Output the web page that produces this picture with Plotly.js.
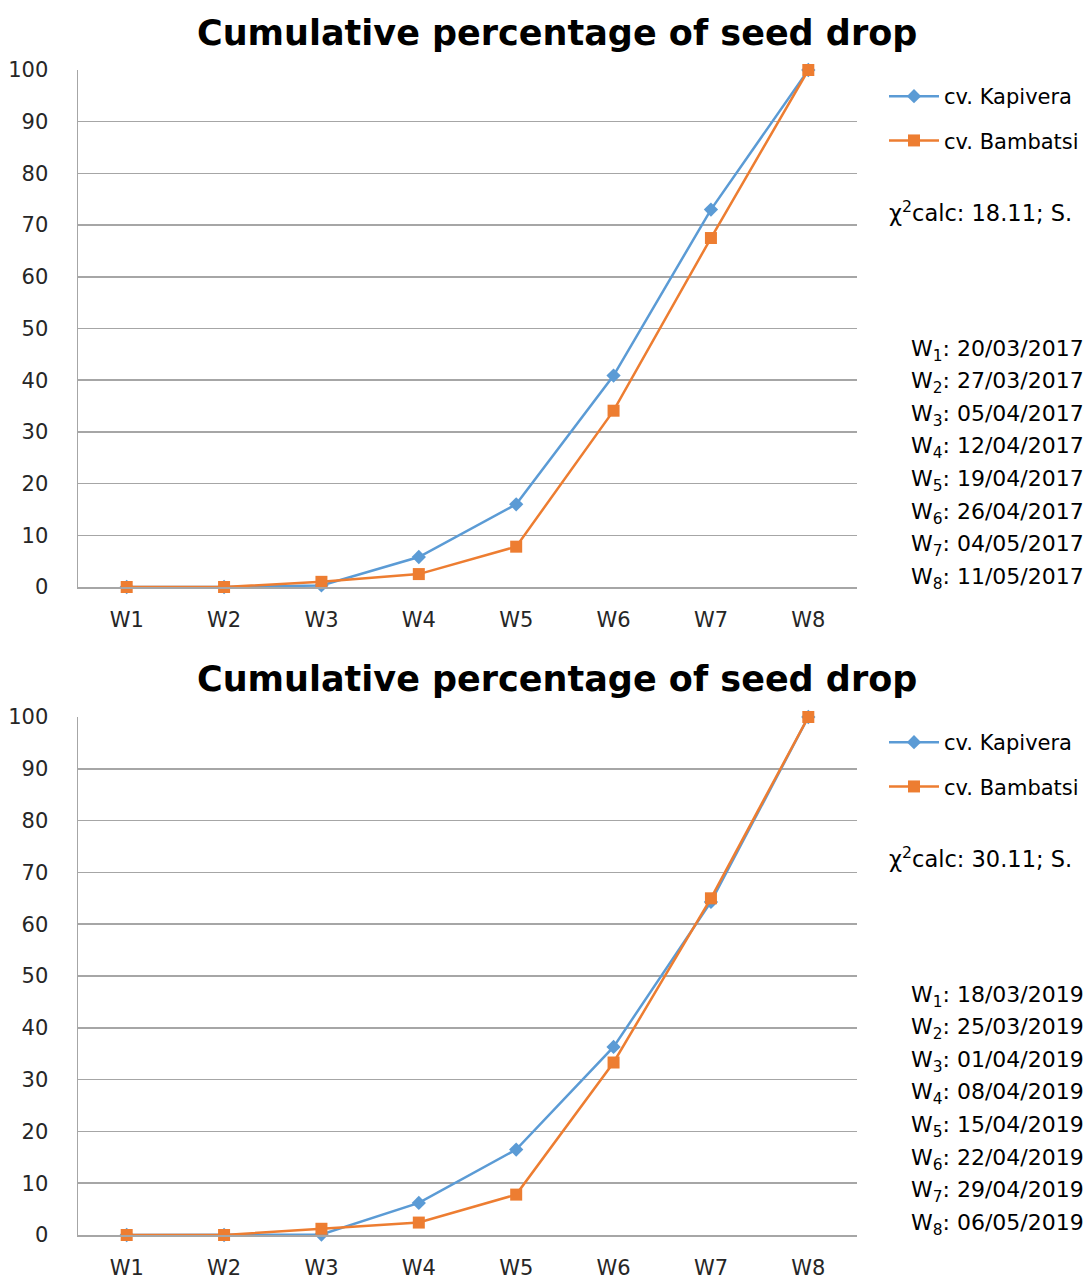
<!DOCTYPE html>
<html>
<head>
<meta charset="utf-8">
<script src="https://cdn.plot.ly/plotly-3.0.1.min.js"></script>
<style>html,body{margin:0;padding:0;background:#fff;}#chart{width:1087px;height:1279px;}</style>
</head>
<body>
<div id="chart"></div>
<script>
const weeks = ["W1","W2","W3","W4","W5","W6","W7","W8"];
const kapivera2017 = [0, 0, 0.3, 5.8, 16.0, 40.9, 73.0, 100];
const bambatsi2017 = [0, 0, 1.0, 2.5, 7.8, 34.1, 67.5, 100];
const kapivera2019 = [0, 0, 0.1, 6.2, 16.5, 36.3, 64.3, 100];
const bambatsi2019 = [0, 0, 1.2, 2.4, 7.8, 33.3, 65.0, 100];
const seriesNames = ["cv. Kapivera", "cv. Bambatsi"];
const chartTitle = "Cumulative percentage of seed drop";
const chi2017 = "χ<sup>2</sup>calc: 18.11; S.";
const chi2019 = "χ<sup>2</sup>calc: 30.11; S.";
const dates2017 = ["20/03/2017","27/03/2017","05/04/2017","12/04/2017","19/04/2017","26/04/2017","04/05/2017","11/05/2017"];
const dates2019 = ["18/03/2019","25/03/2019","01/04/2019","08/04/2019","15/04/2019","22/04/2019","29/04/2019","06/05/2019"];

const FONT = "'DejaVu Sans', Verdana, sans-serif";
const BLUE = "#5b9bd5", ORANGE = "#ed7d31";
const H = 1279, W = 1087, L = 78, R = 857;
const py = px => 1 - px / H;          // pixel y -> paper y
const pxX = px => (px - L) / (R - L);  // pixel x -> paper x

function mk(y, name, color, sym, xa, ya, leg, size) {
  return {x: weeks, y: y, name: name, type: "scatter", mode: "lines+markers",
    xaxis: xa, yaxis: ya, legend: leg, legendgroup: name + leg,
    line: {color: color, width: 2.5},
    marker: {color: color, symbol: sym, size: size},
    cliponaxis: false};
}
const traces = [
  mk(kapivera2017, seriesNames[0], BLUE, "diamond", "x", "y", "legend", 11),
  mk(bambatsi2017, seriesNames[1], ORANGE, "square", "x", "y", "legend", 12),
  mk(kapivera2019, seriesNames[0], BLUE, "diamond", "x2", "y2", "legend2", 11),
  mk(bambatsi2019, seriesNames[1], ORANGE, "square", "x2", "y2", "legend2", 12)
];

const xBase = {type: "category", range: [-0.5, 7.5], showgrid: false, showline: true,
  linecolor: "#a6a6a6", linewidth: 1.5, ticks: "", ticklabelstandoff: 13,
  tickfont: {family: FONT, size: 21, color: "#262626"}, zeroline: false, fixedrange: true};
const yBase = {range: [0, 100], dtick: 10, showgrid: true, gridcolor: "#a6a6a6", gridwidth: 1.5,
  showline: true, linecolor: "#a6a6a6", linewidth: 1.5, ticks: "", ticklabelstandoff: 24,
  tickfont: {family: FONT, size: 21, color: "#262626"}, zeroline: false, fixedrange: true};

const annotations = [];
function addTitle(yPx) {
  annotations.push({text: "<b>" + chartTitle + "</b>", xref: "paper", yref: "paper",
    x: pxX(557), y: py(yPx), xanchor: "center", yanchor: "middle", showarrow: false,
    font: {family: FONT, size: 35, color: "#000"}});
}
function addChi(txt, yPx) {
  annotations.push({text: txt, xref: "paper", yref: "paper", x: pxX(887), y: py(yPx),
    xanchor: "left", yanchor: "middle", showarrow: false,
    font: {family: FONT, size: 22.5, color: "#000"}});
}
function addDates(list, y0) {
  list.forEach((d, i) => {
    annotations.push({text: "W<sub>" + (i + 1) + "</sub>: " + d, xref: "paper", yref: "paper",
      x: pxX(1086), y: py(y0 + i * 32.6), xanchor: "right", yanchor: "middle", showarrow: false,
      font: {family: FONT, size: 22, color: "#000"}});
  });
}
addTitle(33); addTitle(679);
addChi(chi2017, 211); addChi(chi2019, 857);
addDates(dates2017, 350); addDates(dates2019, 996);

const legBase = {x: pxX(884), xanchor: "left", yanchor: "top", bgcolor: "rgba(0,0,0,0)",
  font: {family: FONT, size: 21, color: "#000"}, tracegroupgap: 14, traceorder: "grouped",
  itemwidth: 50};

const layout = {
  width: W, height: H, margin: {l: L, r: W - R, t: 0, b: 0},
  paper_bgcolor: "#fff", plot_bgcolor: "#fff", showlegend: true,
  xaxis: Object.assign({}, xBase, {domain: [0, 1], anchor: "y"}),
  yaxis: Object.assign({}, yBase, {domain: [py(587), py(70)], anchor: "x"}),
  xaxis2: Object.assign({}, xBase, {domain: [0, 1], anchor: "y2"}),
  yaxis2: Object.assign({}, yBase, {domain: [py(1235), py(717)], anchor: "x2"}),
  legend: Object.assign({}, legBase, {y: py(76)}),
  legend2: Object.assign({}, legBase, {y: py(722)}),
  annotations: annotations
};

Plotly.newPlot("chart", traces, layout, {staticPlot: true, displayModeBar: false});
</script>
</body>
</html>
